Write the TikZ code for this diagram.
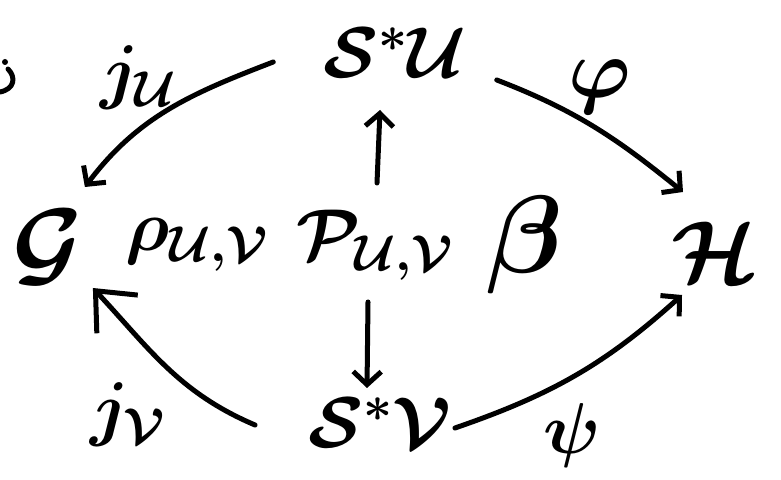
\documentclass[tikz,border=0pt]{standalone}
\usepackage{fix-cm}
\usetikzlibrary{arrows.meta}
\begin{document}
\begin{tikzpicture}[x=1pt,y=1pt,line width=5pt,line cap=round,line join=round,
  obj/.style={inner sep=0pt,outer sep=0pt,font=\boldmath\fontsize{72}{72}\selectfont},
  lab/.style={inner sep=0pt,font=\boldmath\fontsize{72}{72}\selectfont},
  arr/.style={-{Straight Barb[length=13pt,width=28pt,line width=5pt]}},
  bigarr/.style={-{Straight Barb[length=32pt,width=56pt,line width=5pt]}}]
\useasboundingbox (0,0) rectangle (781,479);
% objects (boxes sized like the reference's handwriting)
\node[obj,minimum width=140pt,minimum height=85pt] (SU) at (395,426.5) {$\mathcal{S}^*\mathcal{U}$};
\node[obj,minimum width=55pt,minimum height=95pt,font=\boldmath\fontsize{96}{96}\selectfont] (G) at (47.5,231.5) {$\mathcal{G}$};
\node[obj,minimum width=140pt,minimum height=100pt] (P) at (375,234) {$\mathcal{P}_{\mathcal{U},\mathcal{V}}$};
\node[obj,minimum width=90pt,minimum height=85pt,font=\boldmath\fontsize{88}{88}\selectfont] (H) at (715,226.5) {$\mathcal{H}$};
\node[obj,minimum width=140pt,minimum height=95pt] (SV) at (380,56.5) {$\mathcal{S}^*\mathcal{V}$};
% labels
\node[lab] (rho) at (197,234) {$\rho_{\mathcal{U},\mathcal{V}}$};
\node[lab,font=\boldmath\fontsize{110}{110}\selectfont] (beta) at (525,234) {$\beta$};
\node[lab] (jU) at (138,401) {$j_{\mathcal{U}}$};
\node[lab,font=\boldmath\fontsize{84}{84}\selectfont] (phi) at (600,392) {$\varphi$};
\node[lab] (jV) at (128,64) {$j_{\mathcal{V}}$};
\node[lab] (psi) at (572,44) {$\psi$};
% connectors
\draw[arr] ([shift={(-50,-9.5)}]SU.west) to[out=201,in=53] ([shift={(2,13)}]G.north east);
\draw[arr] ([shift={(30,-27.5)}]SU.east) to[out=-21,in=141] ([shift={(13,18)}]H.north west);
\draw[bigarr] ([shift={(-53,-2.5)}]SV.west) to[out=157,in=-47] ([shift={(10,7)}]G.south east);
\draw[arr] ([shift={(3,-5.5)}]SV.east) to[out=19,in=-138] ([shift={(12,0)}]H.south west);
\draw[arr] ([shift={(2,12)}]P.north) -- ([shift={(-15,-15)}]SU.south);
\draw[arr] ([shift={(-7,-7)}]P.south) -- ([shift={(-13,-13)}]SV.north);
% fragment of cut-off text at the left edge
\fill (5,417) circle (3pt);
\draw (8,410) .. controls (16,402) and (15,390) .. (0,387);
\end{tikzpicture}
\end{document}
